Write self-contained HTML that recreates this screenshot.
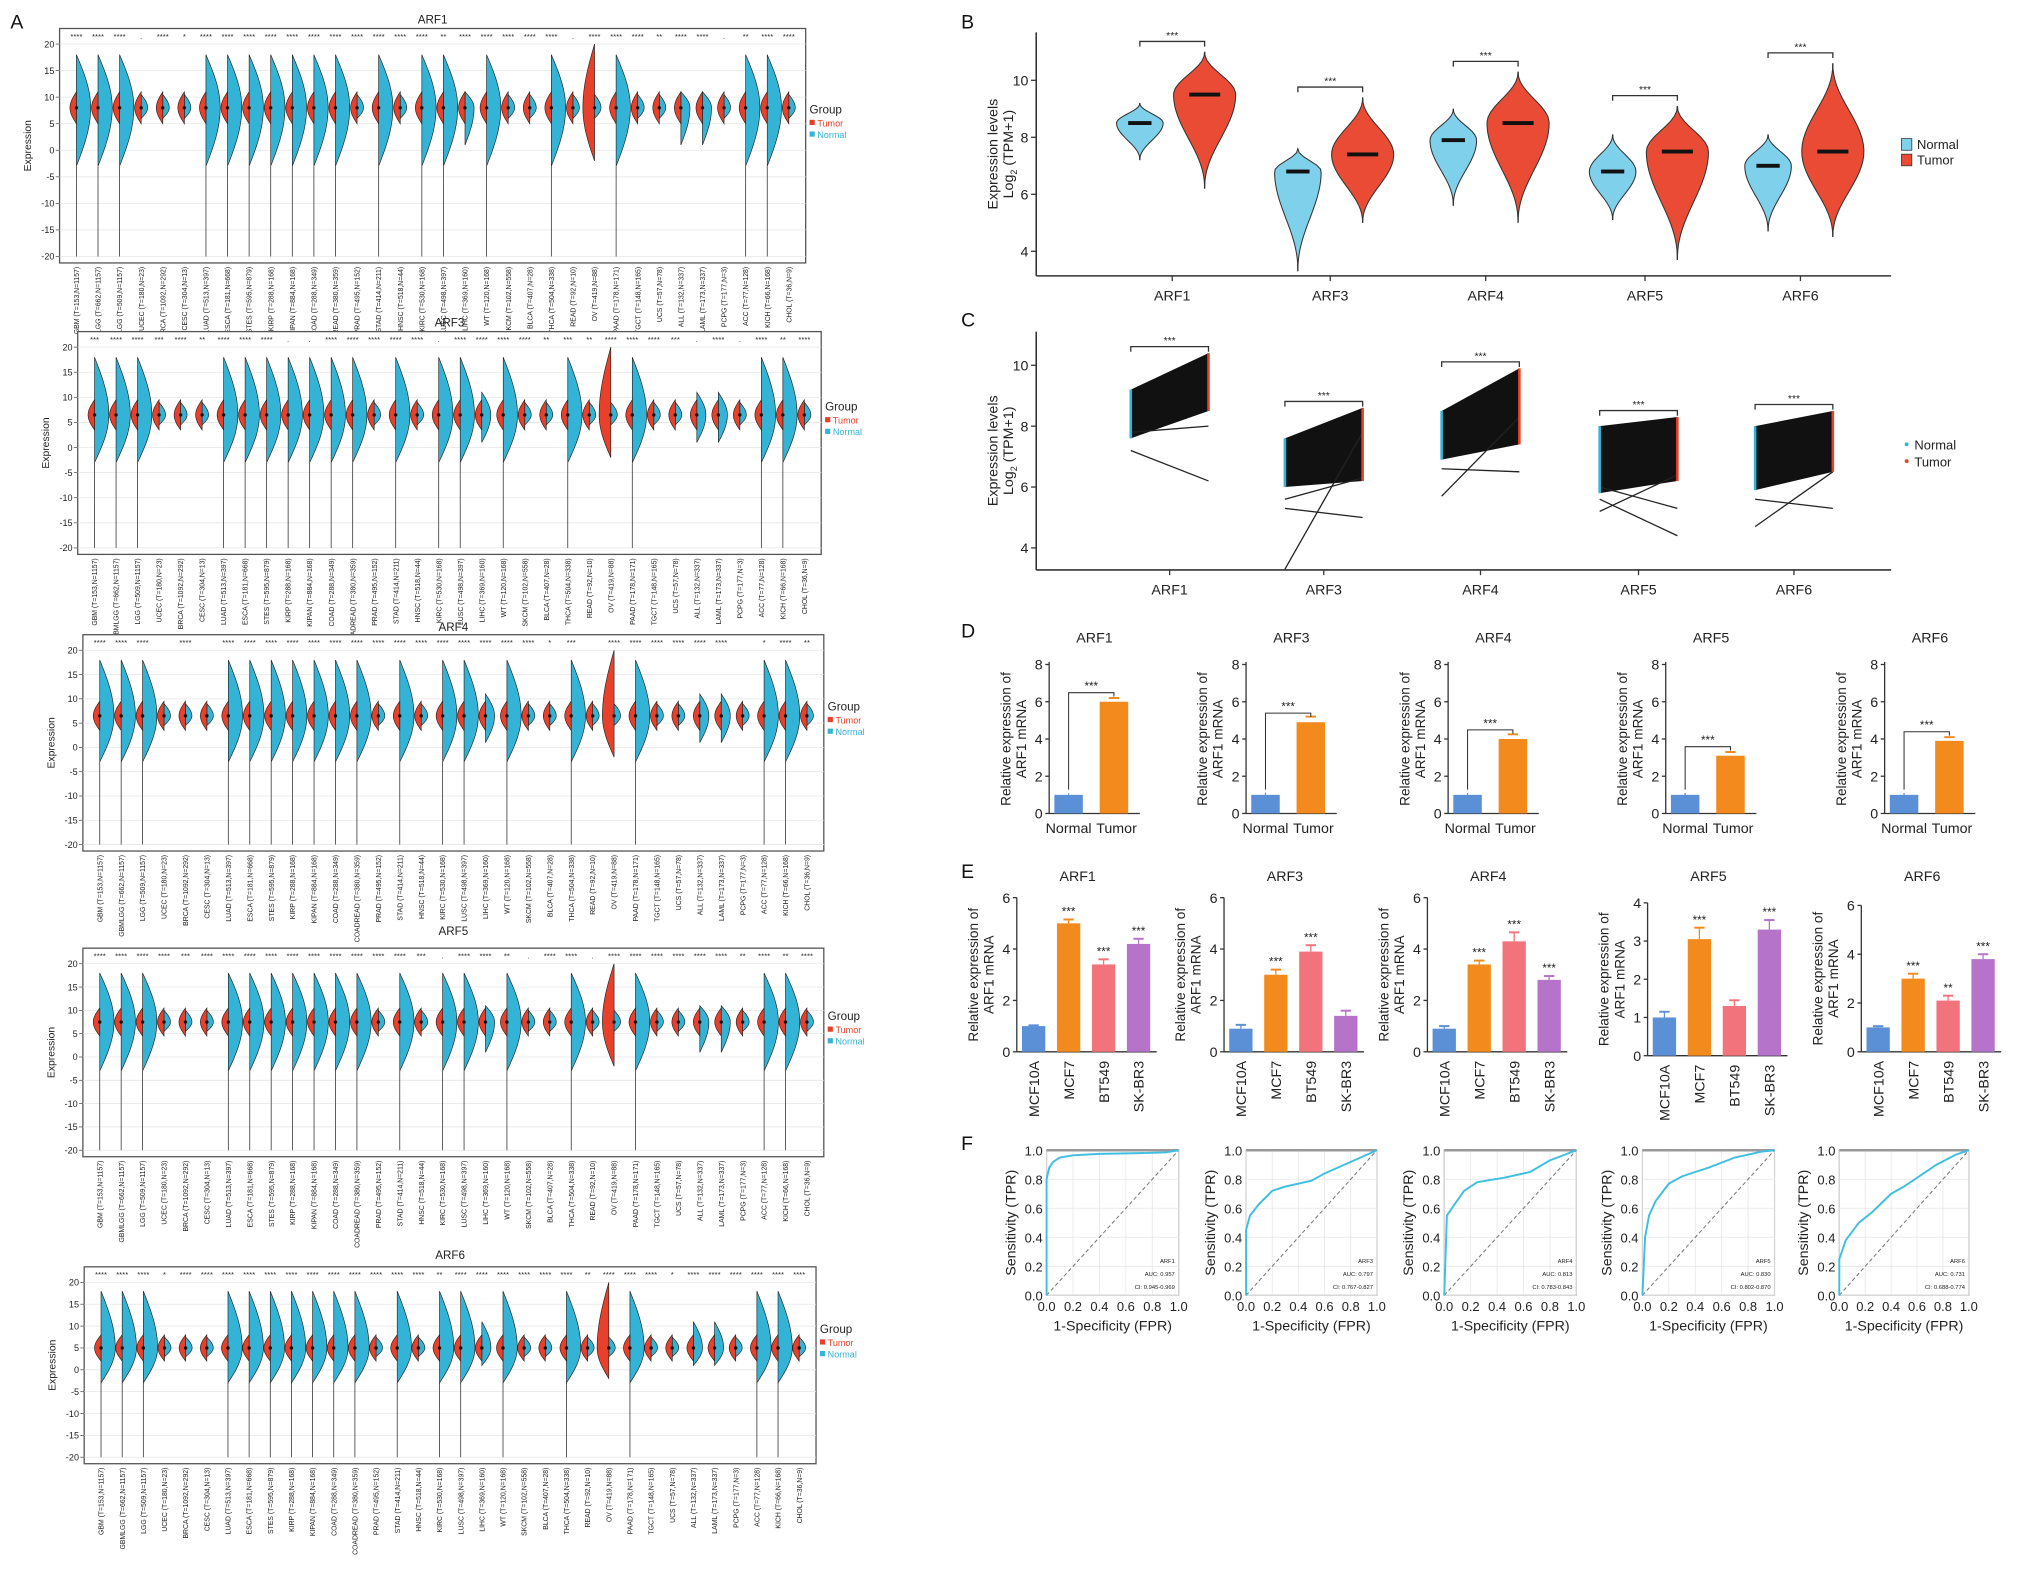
<!DOCTYPE html>
<html><head><meta charset="utf-8"><style>
html,body{margin:0;padding:0;background:#fff}
svg{display:block}
text{font-family:"Liberation Sans",sans-serif}
</style></head><body>
<svg id="fig" width="2031" height="1579" viewBox="0 0 1568 1219" preserveAspectRatio="none" xmlns="http://www.w3.org/2000/svg"></svg>
<script>
// ---------- DATA ----------
const cancers=["GBM (T=153,N=1157)","GBMLGG (T=662,N=1157)","LGG (T=509,N=1157)","UCEC (T=180,N=23)","BRCA (T=1092,N=292)","CESC (T=304,N=13)","LUAD (T=513,N=397)","ESCA (T=181,N=668)","STES (T=595,N=879)","KIRP (T=288,N=168)","KIPAN (T=884,N=168)","COAD (T=288,N=349)","COADREAD (T=380,N=359)","PRAD (T=495,N=152)","STAD (T=414,N=211)","HNSC (T=518,N=44)","KIRC (T=530,N=168)","LUSC (T=498,N=397)","LIHC (T=369,N=160)","WT (T=120,N=168)","SKCM (T=102,N=558)","BLCA (T=407,N=28)","THCA (T=504,N=338)","READ (T=92,N=10)","OV (T=419,N=88)","PAAD (T=178,N=171)","TGCT (T=148,N=165)","UCS (T=57,N=78)","ALL (T=132,N=337)","LAML (T=173,N=337)","PCPG (T=177,N=3)","ACC (T=77,N=128)","KICH (T=66,N=168)","CHOL (T=36,N=9)"];
const normalSize=[2,2,2,0,0,0,2,2,2,2,2,2,2,0,2,0,2,2,1,2,0,0,2,0,0,2,0,0,1,1,0,2,2,0];
const genesA=["ARF1","ARF3","ARF4","ARF5","ARF6"];
const geneMedianA=[8,6.5,6.5,7.5,5];
const sigA=[
["****","****","****",".","****","*","****","****","****","****","****","****","****","****","****","****","****","**","****","****","****","****","****",".","****","****","****","**","****","****",".","**","****","****"],
["***","****","****","***","****","**","****","****","****",".",".","****","****","****","****","****",".","****","****","****","****","**","***","**","****","****","****","***",".","****",".","****","**","****"],
["****","****","****","","****","","****","****","****","****","****","****","****","****","****","****","****","****","****","****","****","*","***","","****","****","****","****","****","****","","*","****","**"],
["****","****","****","****","***","****","****","****","****","****","****","****","****","****","****","***",".","****","****","**",".","****","****",".","****","****","****","****","****","****","**","****","**","****"],
["****","****","****","*","****","****","****","****","****","****","****","****","****","****","****","****","**","****","****","****","****","****","****","**","****","****","****","*","****","****","****","****","****","****"]];
const yTicksA=[20,15,10,5,0,-5,-10,-15,-20];

const genesB=["ARF1","ARF3","ARF4","ARF5","ARF6"];
const normMed=[8.5,6.8,7.9,6.8,7.0], normMin=[7.2,3.3,5.6,5.1,4.7], normMax=[9.2,7.6,9.0,8.1,8.1];
const tumMed=[9.5,7.4,8.5,7.5,7.5], tumMin=[6.2,5.0,5.0,3.7,4.5], tumMax=[11.0,9.4,10.3,9.1,10.6];
const yTicksBC=[4,6,8,10];
const pairNormLo=[7.6,6.0,6.9,5.8,5.9], pairNormHi=[9.2,7.6,8.5,8.0,8.0];
const pairTumLo=[8.5,6.2,7.4,6.2,6.5], pairTumHi=[10.4,8.6,9.9,8.3,8.5];
const outNorm=[[7.8,7.2],[3.3,5.3,5.6],[5.7,6.6],[5.2,5.6,6.0],[4.7,5.6]];
const outTum=[[8.0,6.2],[7.8,5.0,6.3],[8.3,6.5],[6.4,4.4,5.3],[6.5,5.3]];

const genesD=["ARF1","ARF3","ARF4","ARF5","ARF6"];
const dNormal=[1,1,1,1,1], dTumor=[6.0,4.9,4.0,3.1,3.9];
const dErrN=[0.08,0.12,0.1,0.1,0.1], dErrT=[0.2,0.3,0.25,0.2,0.2];
const yTicksD=[0,2,4,6,8];

const cellLines=["MCF10A","MCF7","BT549","SK-BR3"];
const eVals=[[1,5.0,3.4,4.2],[0.9,3.0,3.9,1.4],[0.9,3.4,4.3,2.8],[1.0,3.05,1.3,3.3],[1.0,3.0,2.1,3.8]];
const eErr=[[0.03,0.15,0.2,0.2],[0.15,0.2,0.25,0.2],[0.1,0.15,0.35,0.15],[0.15,0.3,0.15,0.25],[0.05,0.2,0.2,0.2]];
const eMax=[6,6,6,4,6];
const eSig=[["","***","***","***"],["","***","***",""],["","***","***","***"],["","***","","***"],["","***","**","***"]];

const rocFpr=[[0,0,0.02,0.05,0.1,0.2,0.4,0.7,0.9,1],[0,0,0.03,0.1,0.2,0.3,0.5,0.6,0.8,1],[0,0.02,0.08,0.15,0.25,0.45,0.65,0.8,1],[0,0.02,0.05,0.1,0.2,0.3,0.5,0.7,0.9,1],[0,0,0.05,0.15,0.25,0.4,0.5,0.6,0.75,0.9,1]];
const rocTpr=[[0,0.8,0.88,0.92,0.95,0.965,0.975,0.98,0.985,1],[0,0.45,0.55,0.63,0.72,0.75,0.79,0.84,0.92,1],[0,0.55,0.63,0.72,0.78,0.81,0.85,0.93,1],[0,0.4,0.55,0.65,0.77,0.82,0.88,0.95,0.99,1],[0,0.25,0.38,0.5,0.57,0.7,0.75,0.81,0.9,0.97,1]];
const rocAuc=["0.957","0.797","0.813","0.830","0.731"];
const rocCi=["0.945-0.969","0.767-0.827","0.783-0.843","0.802-0.870","0.688-0.774"];

// ---------- HELPERS ----------
const NS="http://www.w3.org/2000/svg";
const svg=document.getElementById('fig');
function mk(tag,attrs,parent){const e=document.createElementNS(NS,tag);for(const k in attrs)e.setAttribute(k,attrs[k]);(parent||svg).appendChild(e);return e;}
function txt(s,x,y,size,opts,parent){const o=Object.assign({x:x,y:y,'font-size':size,fill:'#222'},opts||{});const t=mk('text',o,parent);t.textContent=s;return t;}
const BLUE='#33b3d6', RED='#e8402a';

[["A",8,22],["B",742,22],["C",742,252],["D",742,492],["E",742,678],["F",742,888]].forEach(p=>{const t=txt(p[0],p[1],p[2],15,{fill:'#111'});

});

// ---------- PANEL A ----------
const boxesA=[[46,622,22,203,14],[60,634,256,428,248],[64,636,490,657,483],[64,636,732,893,718],[65,630,978,1130,968]];
genesA.forEach((g,gi)=>{
  const [x0,x1,y0,y1,ty]=boxesA[gi];
  const grp=mk('g',{});
  
  
  const t=txt(g,(x0+x1)/2,ty+4,9,{'text-anchor':'middle'},grp);
  
  
  const top=y0+12, bot=y1-5;
  const ys=v=>top+(20-v)/40*(bot-top);
  mk('rect',{x:x0,y:y0,width:x1-x0,height:y1-y0,fill:'#fff',stroke:'#555','stroke-width':1},grp);
  yTicksA.forEach(v=>{
    mk('line',{x1:x0,x2:x1,y1:ys(v),y2:ys(v),stroke:'#e6e6e6','stroke-width':0.6},grp);
    mk('line',{x1:x0-3,x2:x0,y1:ys(v),y2:ys(v),stroke:'#555','stroke-width':0.6},grp);
    const tk=txt(String(v),x0-4,ys(v)+2.5,7,{'text-anchor':'end'},grp);
    
    
  });
  const yl=txt('Expression',0,0,8,{'text-anchor':'middle',transform:`translate(${x0-22},${(y0+y1)/2}) rotate(-90)`},grp);
  
  
  const n=cancers.length, step=(x1-x0-26)/(n-1);
  cancers.forEach((c,i)=>{
    const cx=x0+13+i*step, med=geneMedianA[gi];
    const sz=normalSize[i];
    const nt=sz===2?18:sz===1?11:med+2.5, nb=sz===2?-3:sz===1?1:med-2, nw=sz===2?11:sz===1?7:5;
    if(sz===2){mk('line',{x1:cx,x2:cx,y1:ys(nb),y2:ys(-20),stroke:'#333','stroke-width':0.6},grp);}
    const half=(tp,bt,w,dir,fill)=>{let d=`M${cx},${ys(tp)}`;const m=ys(med);
      for(let k=0;k<=20;k++){const y=ys(tp)+(m-ys(tp))*k/20;d+=` L${cx+dir*w*Math.sin(Math.PI/2*k/20)},${y}`;}
      for(let k=0;k<=20;k++){const y=m+(ys(bt)-m)*k/20;d+=` L${cx+dir*w*Math.cos(Math.PI/2*k/20)},${y}`;}
      return mk('path',{d:d+' Z',fill:fill,stroke:'#222','stroke-width':0.5},grp);};
    const nv=half(nt,nb,nw,1,BLUE);
    
    
    const isOV=c.startsWith('OV');
    const tv=half(isOV?20:med+3,isOV?-2:med-3,isOV?9:5,-1,RED);
    
    
    mk('circle',{cx:cx,cy:ys(med),r:1.3,fill:'#111'},grp);
    const s=txt(sigA[gi][i],cx,y0+8,6,{'text-anchor':'middle'},grp);
    
    
    const xl=txt(c,0,0,5.3,{'text-anchor':'end',transform:`translate(${cx+2},${y1+3}) rotate(-90)`},grp);
    
    
  });
  const ly=(y0+y1)/2-25, lx=x1+3;
  txt('Group',lx,ly,9,{},grp);
  mk('rect',{x:lx,y:ly+5,width:4,height:4,fill:RED},grp);
  txt('Tumor',lx+6,ly+10,7,{fill:RED},grp);
  mk('rect',{x:lx,y:ly+14,width:4,height:4,fill:BLUE},grp);
  txt('Normal',lx+6,ly+19,7,{fill:BLUE},grp);
});

// ---------- PANEL B ----------
(function(){
  const g=mk('g',{});
  
  
  const ax=800, top=25, base=213, xr=1460;
  const ys=v=>62+(10-v)*22;
  const gx=[905,1027,1147,1270,1390];
  mk('line',{x1:ax,x2:ax,y1:top,y2:base,stroke:'#333','stroke-width':1.2},g);
  mk('line',{x1:ax,x2:xr,y1:base,y2:base,stroke:'#333','stroke-width':1.2},g);
  yTicksBC.forEach(v=>{mk('line',{x1:ax-4,x2:ax,y1:ys(v),y2:ys(v),stroke:'#333'},g);
    const t=txt(String(v),ax-6,ys(v)+4,11,{'text-anchor':'end'},g);
    
    });
  const yl=txt('Expression levels',0,0,11,{'text-anchor':'middle',transform:`translate(${ax-30},${(top+base)/2}) rotate(-90)`},g);
  
  
  const yl2=mk('text',{'font-size':11,fill:'#222','text-anchor':'middle',transform:`translate(${ax-18},${(top+base)/2}) rotate(-90)`},g);
  yl2.innerHTML='Log<tspan font-size="7" dy="3">2</tspan><tspan dy="-3"> (TPM+1)</tspan>';
  const violin=(cx,mn,md,mx,w,fill)=>{const pts=[];
    for(let k=0;k<=30;k++){const v=mx-(mx-mn)*k/30;let f=v>md?(mx-v)/(mx-md):(v-mn)/(md-mn);f=Math.pow(Math.sin(Math.PI/2*f),2.2);pts.push([w*f,ys(v)]);}
    const d='M'+pts.map(p=>`${cx+p[0]},${p[1]}`).join(' L')+' L'+pts.reverse().map(p=>`${cx-p[0]},${p[1]}`).join(' L')+' Z';
    return mk('path',{d:d,fill:fill,stroke:'#333','stroke-width':0.8},g);};
  genesB.forEach((gn,i)=>{
    const nx=gx[i]-25, tx=gx[i]+25;
    mk('line',{x1:nx,x2:nx,y1:ys(normMax[i]),y2:ys(normMin[i]),stroke:'#333'},g);
    mk('line',{x1:tx,x2:tx,y1:ys(tumMax[i]),y2:ys(tumMin[i]),stroke:'#333'},g);
    const nv=violin(nx,normMin[i],normMed[i],normMax[i],18,'#7fd0ea');
    
    
    const tv=violin(tx,tumMin[i],tumMed[i],tumMax[i],24,'#ea4b34');
    
    
    mk('rect',{x:nx-9,y:ys(normMed[i])-1.5,width:18,height:3,fill:'#111'},g);
    mk('rect',{x:tx-12,y:ys(tumMed[i])-1.5,width:24,height:3,fill:'#111'},g);
    const by=ys(Math.max(normMax[i],tumMax[i]))-8;
    mk('path',{d:`M${nx},${by+4} L${nx},${by} L${tx},${by} L${tx},${by+4}`,fill:'none',stroke:'#333'},g);
    txt('***',gx[i],by-2,8,{'text-anchor':'middle'},g);
    mk('line',{x1:gx[i],x2:gx[i],y1:base,y2:base+4,stroke:'#333'},g);
    const xl=txt(gn,gx[i],base+19,11,{'text-anchor':'middle'},g);
    
    
  });
  mk('rect',{x:1468,y:107,width:8,height:9,fill:'#7fd0ea',stroke:'#333','stroke-width':0.6},g);
  txt('Normal',1480,115,10,{},g);
  mk('rect',{x:1468,y:119,width:8,height:9,fill:'#ea4b34',stroke:'#333','stroke-width':0.6},g);
  txt('Tumor',1480,127,10,{},g);
})();

// ---------- PANEL C ----------
(function(){
  const g=mk('g',{});
  
  
  const ax=800, top=256, base=440, xr=1460;
  const ys=v=>282+(10-v)*23.5;
  const gx=[903,1022,1143,1265,1385];
  mk('line',{x1:ax,x2:ax,y1:top,y2:base,stroke:'#333','stroke-width':1.2},g);
  mk('line',{x1:ax,x2:xr,y1:base,y2:base,stroke:'#333','stroke-width':1.2},g);
  yTicksBC.forEach(v=>{mk('line',{x1:ax-4,x2:ax,y1:ys(v),y2:ys(v),stroke:'#333'},g);
    const t=txt(String(v),ax-6,ys(v)+4,11,{'text-anchor':'end'},g);
    
    });
  const yl=txt('Expression levels',0,0,11,{'text-anchor':'middle',transform:`translate(${ax-30},${(top+base)/2}) rotate(-90)`},g);
  
  
  const yl2=mk('text',{'font-size':11,fill:'#222','text-anchor':'middle',transform:`translate(${ax-18},${(top+base)/2}) rotate(-90)`},g);
  yl2.innerHTML='Log<tspan font-size="7" dy="3">2</tspan><tspan dy="-3"> (TPM+1)</tspan>';
  genesB.forEach((gn,i)=>{
    const nx=gx[i]-30, tx=gx[i]+30;
    const band=mk('path',{d:`M${nx},${ys(pairNormHi[i])} L${tx},${ys(pairTumHi[i])} L${tx},${ys(pairTumLo[i])} L${nx},${ys(pairNormLo[i])} Z`,fill:'#111'},g);
    
    
    outNorm[i].forEach((v,k)=>{mk('line',{x1:nx,y1:ys(v),x2:tx,y2:ys(outTum[i][k]),stroke:'#222','stroke-width':1},g);});
    mk('line',{x1:nx,x2:nx,y1:ys(pairNormHi[i]),y2:ys(pairNormLo[i]),stroke:BLUE,'stroke-width':2},g);
    mk('line',{x1:tx,x2:tx,y1:ys(pairTumHi[i]),y2:ys(pairTumLo[i]),stroke:RED,'stroke-width':2},g);
    const by=ys(pairTumHi[i])-5;
    mk('path',{d:`M${nx},${by+4} L${nx},${by} L${tx},${by} L${tx},${by+4}`,fill:'none',stroke:'#333'},g);
    txt('***',gx[i],by-2,8,{'text-anchor':'middle'},g);
    mk('line',{x1:gx[i],x2:gx[i],y1:base,y2:base+4,stroke:'#333'},g);
    const xl=txt(gn,gx[i],base+19,11,{'text-anchor':'middle'},g);
    
    
  });
  mk('circle',{cx:1472,cy:343,r:1.5,fill:BLUE},g);
  txt('Normal',1478,347,10,{},g);
  mk('circle',{cx:1472,cy:356,r:1.5,fill:RED},g);
  txt('Tumor',1478,360,10,{},g);
})();

// ---------- PANEL D ----------
const dAxisX=[810,962,1118,1286,1455];
genesD.forEach((gn,i)=>{
  const g=mk('g',{});
  
  
  const ax=dAxisX[i], top=513, base=628;
  const ys=v=>base-v/8*(base-top);
  mk('line',{x1:ax,x2:ax,y1:top-2,y2:base,stroke:'#333'},g);
  mk('line',{x1:ax,x2:ax+70,y1:base,y2:base,stroke:'#333'},g);
  yTicksD.forEach(v=>{mk('line',{x1:ax-3,x2:ax,y1:ys(v),y2:ys(v),stroke:'#333'},g);
    txt(String(v),ax-5,ys(v)+4,11,{'text-anchor':'end'},g);});
  txt(gn,ax+35,496,11,{'text-anchor':'middle'},g);
  const yl=txt('Relative expression of',0,0,10.5,{'text-anchor':'middle',transform:`translate(${ax-30},${(top+base)/2}) rotate(-90)`},g);
  
  
  txt('ARF1 mRNA',0,0,10.5,{'text-anchor':'middle',transform:`translate(${ax-18},${(top+base)/2}) rotate(-90)`},g);
  const cxN=ax+15, cxT=ax+50;
  const bn=mk('rect',{x:cxN-11,y:ys(dNormal[i]),width:22,height:base-ys(dNormal[i]),fill:'#5b8fd6'},g);
  
  
  const bt=mk('rect',{x:cxT-11,y:ys(dTumor[i]),width:22,height:base-ys(dTumor[i]),fill:'#f28a1e'},g);
  
  
  mk('line',{x1:cxN,x2:cxN,y1:ys(dNormal[i]),y2:ys(dNormal[i]+dErrN[i]),stroke:'#5b8fd6'},g);
  mk('line',{x1:cxT-4,x2:cxT+4,y1:ys(dTumor[i]+dErrT[i]),y2:ys(dTumor[i]+dErrT[i]),stroke:'#f28a1e','stroke-width':1.5},g);
  const by=ys(dTumor[i])-7;
  mk('path',{d:`M${cxN},${ys(dNormal[i])-4} L${cxN},${by} L${cxT},${by} L${cxT},${by+3}`,fill:'none',stroke:'#333','stroke-width':0.8},g);
  txt('***',(cxN+cxT)/2,by-2,9,{'text-anchor':'middle'},g);
  txt('Normal',cxN,base+15,11,{'text-anchor':'middle'},g);
  txt('Tumor',cxT+2,base+15,11,{'text-anchor':'middle'},g);
});

// ---------- PANEL E ----------
const eAxisX=[785,945,1102,1272,1437];
const eTop=[693,693,693,697,699], eBase=[812,812,812,815,812];
const eColors=['#5b8fd6','#f28a1e','#f2737b','#b574c9'];
genesD.forEach((gn,i)=>{
  const g=mk('g',{});
  
  
  const ax=eAxisX[i], top=eTop[i], base=eBase[i];
  const ys=v=>base-v/eMax[i]*(base-top);
  mk('line',{x1:ax,x2:ax,y1:top,y2:base,stroke:'#333'},g);
  mk('line',{x1:ax,x2:ax+108,y1:base,y2:base,stroke:'#333'},g);
  for(let v=0;v<=eMax[i];v+=(eMax[i]===4?1:2)){mk('line',{x1:ax-3,x2:ax,y1:ys(v),y2:ys(v),stroke:'#333'},g);
    txt(String(v),ax-5,ys(v)+4,11,{'text-anchor':'end'},g);}
  txt(gn,ax+47,680,11,{'text-anchor':'middle'},g);
  txt('Relative expression of',0,0,10.5,{'text-anchor':'middle',transform:`translate(${ax-30},${(top+base)/2}) rotate(-90)`},g);
  txt('ARF1 mRNA',0,0,10.5,{'text-anchor':'middle',transform:`translate(${ax-18},${(top+base)/2}) rotate(-90)`},g);
  cellLines.forEach((cl,k)=>{
    const cx=ax+13+k*27, v=eVals[i][k], e=eErr[i][k];
    const b=mk('rect',{x:cx-9,y:ys(v),width:18,height:base-ys(v),fill:eColors[k]},g);
    
    
    mk('line',{x1:cx,x2:cx,y1:ys(v),y2:ys(v+e),stroke:eColors[k]},g);
    mk('line',{x1:cx-4,x2:cx+4,y1:ys(v+e),y2:ys(v+e),stroke:eColors[k],'stroke-width':1.5},g);
    if(eSig[i][k]) txt(eSig[i][k],cx,ys(v+e)-3,9,{'text-anchor':'middle'},g);
    txt(cl,0,0,11,{'text-anchor':'end',transform:`translate(${cx+4},${base+7}) rotate(-90)`},g);
  });
});

// ---------- PANEL F ----------
const fBox=[[808,910],[962,1063],[1115,1217],[1268,1370],[1420,1520]];
genesD.forEach((gn,i)=>{
  const g=mk('g',{});
  
  
  const [x0,x1]=fBox[i], y0=888, y1=1000;
  const xs=v=>x0+v*(x1-x0), ys=v=>y1-v*(y1-y0);
  mk('rect',{x:x0,y:y0,width:x1-x0,height:y1-y0,fill:'#fff',stroke:'#888','stroke-width':0.8},g);
  for(let k=0;k<=5;k++){const v=k/5;
    mk('line',{x1:x0,x2:x1,y1:ys(v),y2:ys(v),stroke:'#e6e6e6','stroke-width':0.6},g);
    mk('line',{x1:xs(v),x2:xs(v),y1:y0,y2:y1,stroke:'#e6e6e6','stroke-width':0.6},g);
    txt(v.toFixed(1),x0-3,ys(v)+4,10,{'text-anchor':'end'},g);
    txt(v.toFixed(1),xs(v),y1+12,10,{'text-anchor':'middle'},g);}
  mk('line',{x1:x0,x2:x1,y1:y0,y2:y0,stroke:'#999','stroke-width':2},g);
  mk('line',{x1:xs(0),y1:ys(0),x2:xs(1),y2:ys(1),stroke:'#777','stroke-dasharray':'3,2','stroke-width':0.8},g);
  const d='M'+rocFpr[i].map((f,k)=>`${xs(f)},${ys(rocTpr[i][k])}`).join(' L');
  const c=mk('path',{d:d,fill:'none',stroke:'#3fbfe0','stroke-width':1.5},g);
  
  
  txt(gn,x1-3,y1-25,4.5,{'text-anchor':'end'},g);
  txt('AUC: '+rocAuc[i],x1-3,y1-15,4.5,{'text-anchor':'end'},g);
  txt('CI: '+rocCi[i],x1-3,y1-5,4.5,{'text-anchor':'end'},g);
  txt('Sensitivity (TPR)',0,0,11,{'text-anchor':'middle',transform:`translate(${x0-24},${(y0+y1)/2}) rotate(-90)`},g);
  txt('1-Specificity (FPR)',(x0+x1)/2,y1+27,11,{'text-anchor':'middle'},g);
});
</script>
</body></html>
